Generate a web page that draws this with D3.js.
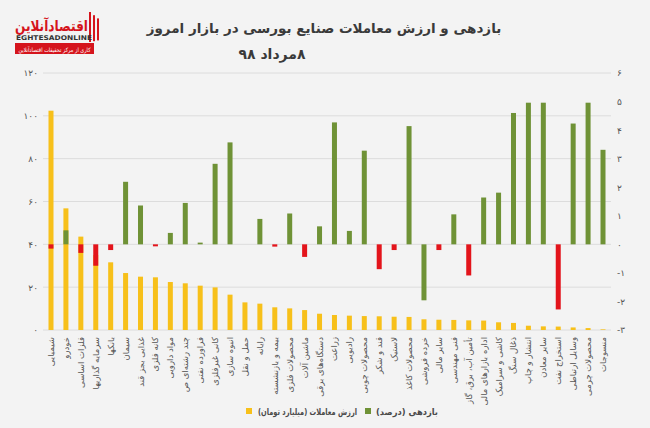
<!DOCTYPE html>
<html><head><meta charset="utf-8">
<script src="https://cdn.jsdelivr.net/npm/d3@7/dist/d3.min.js"></script>
<style>
html,body{margin:0;padding:0;background:#f3f3f3;}
svg{display:block;font-family:"DejaVu Sans",sans-serif;}
</style></head>
<body><svg id="c" width="650" height="428"></svg>
<script>
const categories = ["شیمیایی","خودرو","فلزات اساسی","سرمایه گذاریها","بانکها","سیمان","غذایی بجز قند","کانه فلزی","مواد دارویی","چند رشته‌ای ص","فراورده نفتی","کانی غیرفلزی","انبوه سازی","حمل و نقل","رایانه","بیمه و بازنشسته","محصولات فلزی","ماشین آلات","دستگاه‌های برقی","زراعت","رادیویی","محصولات چوبی","قند و شکر","لاستیک","محصولات کاغذ","خرده فروشی","سایر مالی","فنی مهندسی","تأمین آب، برق، گاز","اداره بازارهای مالی","کاشی و سرامیک","ذغال سنگ","انتشار و چاپ","سایر معادن","استخراج نفت","وسایل ارتباطی","محصولات چرمی","منسوجات"];
const tradeValue = [102.4,56.8,43.6,35,31.6,26.6,24.9,24.6,22.4,21.8,20.7,19.9,16.5,12.9,12.3,10.6,10.1,9.3,7.6,7.0,6.7,6.5,6.4,6.2,6.1,5.0,4.8,4.7,4.5,4.4,3.6,3.3,2.0,1.7,1.6,1.2,0.9,0.3];
const returnPct = [-0.15,0.49,-0.3,-0.75,-0.2,2.19,1.36,-0.07,0.4,1.45,0.06,2.82,3.57,0,0.89,-0.08,1.08,-0.44,0.63,4.27,0.47,3.28,-0.87,-0.2,4.14,-1.96,-0.2,1.05,-1.09,1.64,1.81,4.6,4.96,4.96,-2.28,4.23,4.96,3.31];
const negativeShownGreen = ["خرده فروشی"];
const leftTicks = [0,20,40,60,80,100,120];
const rightTicks = [-3,-2,-1,0,1,2,3,4,5,6];
const legendLabels = ["ارزش معاملات (میلیارد تومان)","بازدهی (درصد)"];
const titleText = "بازدهی و ارزش معاملات صنایع بورسی در بازار امروز";
const dateText = "۸مرداد ۹۸";

const fa = s => String(s).replace(/\d/g, d => "۰۱۲۳۴۵۶۷۸۹"[d]);
const YELLOW="#f7c01a", GREEN="#6f9236", RED="#e3141b";

const svg = d3.select("#c");
svg.append("rect").attr("width",650).attr("height",428).attr("fill","#f3f3f3");

const x = d3.scalePoint().domain(categories).range([51,603]);
const yL = d3.scaleLinear().domain([0,120]).range([330,73]);
const yR = d3.scaleLinear().domain([-3,6]).range([330,73]);
const bw = 5;

// gridlines
svg.append("g").selectAll("line").data(leftTicks).join("line")
  .attr("x1",43).attr("x2",611).attr("y1",d=>yL(d)).attr("y2",d=>yL(d))
  .attr("stroke","#dcdcdc").attr("stroke-width",1);

// left axis
const la = svg.append("g").attr("transform","translate(40,0)")
  .call(d3.axisLeft(yL).tickValues(leftTicks).tickSize(0).tickFormat(fa));
la.select(".domain").remove();
la.selectAll("text").attr("font-size",9).attr("fill","#555").attr("font-family","DejaVu Sans").attr("x",-2);

// right axis
const ra = svg.append("g").attr("transform","translate(614,0)")
  .call(d3.axisRight(yR).tickValues(rightTicks).tickSize(0).tickFormat(fa));
ra.select(".domain").remove();
ra.selectAll("text").attr("font-size",9).attr("fill","#555").attr("font-family","DejaVu Sans").attr("x",3);

const data = categories.map((c,i)=>({c, v:tradeValue[i], r:returnPct[i]}));

// trade value bars
svg.append("g").selectAll("rect").data(data).join("rect")
  .attr("x",d=>x(d.c)-bw/2).attr("width",bw)
  .attr("y",d=>yL(d.v)).attr("height",d=>yL(0)-yL(d.v))
  .attr("fill",YELLOW);

// return bars
svg.append("g").selectAll("rect").data(data).join("rect")
  .attr("x",d=>x(d.c)-bw/2).attr("width",bw)
  .attr("y",d=>yR(Math.max(0,d.r))).attr("height",d=>Math.abs(yR(d.r)-yR(0)))
  .attr("fill",d=> (d.r<0 && !negativeShownGreen.includes(d.c)) ? RED : GREEN);

// x labels
svg.append("g").selectAll("text").data(categories).join("text")
  .attr("transform",d=>`translate(${x(d)+3},337) rotate(-90)`)
  .attr("direction","rtl").attr("text-anchor","start").attr("font-size",8.5).attr("fill","#555")
  .text(d=>d);

// title
svg.append("text").attr("x",324).attr("y",33).attr("text-anchor","middle").attr("direction","rtl")
  .attr("font-size",13.5).attr("font-weight","bold").attr("fill","#3a3a3a").text(titleText);
svg.append("text").attr("x",272).attr("y",59).attr("text-anchor","middle").attr("direction","rtl")
  .attr("font-size",14).attr("font-weight","bold").attr("fill","#3a3a3a").text(dateText);

// logo
const lg = svg.append("g");
lg.append("text").attr("x",88).attr("y",31).attr("direction","rtl").attr("text-anchor","start")
  .attr("font-size",15).attr("font-weight","bold").attr("fill","#d5141c")
  .attr("textLength",73).attr("lengthAdjust","spacingAndGlyphs").text("اقتصادآنلاین");
[0,4,8].forEach(o=>lg.append("rect").attr("x",89+o).attr("y",12+o*0.8).attr("width",2).attr("height",30-o).attr("fill","#d5141c"));
lg.append("text").attr("x",54).attr("y",40).attr("text-anchor","middle").attr("font-size",6.5).attr("font-weight","bold").attr("fill","#333")
  .attr("textLength",76).attr("lengthAdjust","spacingAndGlyphs").text("EGHTESADONLINE");
lg.append("rect").attr("x",15).attr("y",43).attr("width",79).attr("height",11).attr("fill","#d5141c");
lg.append("text").attr("x",54.5).attr("y",51.5).attr("text-anchor","middle").attr("direction","rtl").attr("font-size",6).attr("fill","#fff")
  .attr("textLength",72).attr("lengthAdjust","spacingAndGlyphs").text("کاری از مرکز تحقیقات اقتصادآنلاین");

// legend
const lgd = svg.append("g");
lgd.append("rect").attr("x",246).attr("y",408).attr("width",6).attr("height",6).attr("fill",YELLOW);
lgd.append("text").attr("x",357).attr("y",415).attr("direction","rtl").attr("text-anchor","start")
  .attr("font-size",9).attr("font-weight","bold").attr("fill","#4a4a4a")
  .attr("textLength",99).attr("lengthAdjust","spacingAndGlyphs").text(legendLabels[0]);
lgd.append("rect").attr("x",365).attr("y",408).attr("width",6).attr("height",6).attr("fill",GREEN);
lgd.append("text").attr("x",438).attr("y",415).attr("direction","rtl").attr("text-anchor","start")
  .attr("font-size",9).attr("font-weight","bold").attr("fill","#4a4a4a")
  .attr("textLength",62).attr("lengthAdjust","spacingAndGlyphs").text(legendLabels[1]);
</script></body></html>
